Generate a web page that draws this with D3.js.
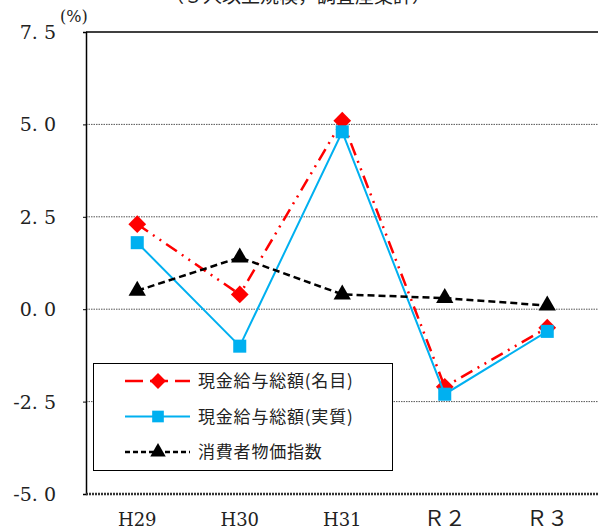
<!DOCTYPE html>
<html>
<head>
<meta charset="utf-8">
<script src="https://cdn.jsdelivr.net/npm/d3@7"></script>
<style>
  html, body { margin: 0; padding: 0; background: #fff; }
  svg { display: block; }
  svg text.serif { font-family: "DejaVu Serif", serif; }
  svg text.cjk { font-family: "Noto Sans CJK JP", sans-serif; }
</style>
</head>
<body>
<svg id="chart" width="598" height="531"></svg>
<script>
// Fiscal years
const categories = ["H29", "H30", "H31", "Ｒ２", "Ｒ３"];
// Year-on-year change (%)
const nominalWages = [2.3, 0.4, 5.1, -2.1, -0.5];   // 現金給与総額(名目)
const realWages    = [1.8, -1.0, 4.8, -2.3, -0.6];  // 現金給与総額(実質)
const cpi          = [0.5, 1.4, 0.4, 0.3, 0.1];     // 消費者物価指数
const yTicks = [7.5, 5.0, 2.5, 0.0, -2.5, -5.0];
const yTickLabels = ["7. 5", "5. 0", "2. 5", "0. 0", "-2. 5", "-5. 0"];
const seriesNames = ["現金給与総額(名目)", "現金給与総額(実質)", "消費者物価指数"];

const svg = d3.select("#chart");
const plot = { left: 86, top: 32, right: 598.5, bottom: 494 };

const x = d3.scaleBand().domain(categories).range([plot.left, plot.right]);
const y = d3.scaleLinear().domain([-5, 7.5]).range([plot.bottom, plot.top]);
const cx = d => x(d) + x.bandwidth() / 2;

// Subtitle (runs off the top edge)
svg.append("text")
  .attr("class", "cjk")
  .attr("x", 298).attr("y", 3)
  .attr("text-anchor", "middle")
  .attr("font-size", 19)
  .attr("fill", "#222")
  .text("（５人以上規模，調査産業計）");

// Horizontal dotted gridlines
svg.append("g").selectAll("line")
  .data(yTicks.filter(v => v > -5 && v < 7.5))
  .join("line")
  .attr("x1", plot.left).attr("x2", plot.right)
  .attr("y1", d => y(d)).attr("y2", d => y(d))
  .attr("stroke", "#555").attr("stroke-width", 1)
  .attr("stroke-dasharray", "1.5,1");

// Frame: top border and left axis
svg.append("line")
  .attr("x1", plot.left).attr("x2", plot.right)
  .attr("y1", y(7.5)).attr("y2", y(7.5))
  .attr("stroke", "#000").attr("stroke-width", 1.5);

const yAxis = d3.axisLeft(y).tickValues(yTicks).tickSize(3).tickFormat("");
const gy = svg.append("g").attr("transform", `translate(${plot.left},0)`).call(yAxis);
gy.select(".domain").attr("stroke", "#000").attr("stroke-width", 1.5);
gy.selectAll(".tick line").attr("stroke", "#000");

// Bottom axis (dense dotted)
svg.append("line")
  .attr("x1", plot.left).attr("x2", plot.right)
  .attr("y1", y(-5)).attr("y2", y(-5))
  .attr("stroke", "#333").attr("stroke-width", 2.5)
  .attr("stroke-dasharray", "2,1");

// Y tick labels
svg.append("g").selectAll("text")
  .data(yTicks)
  .join("text")
  .attr("class", "serif")
  .attr("x", 56).attr("y", d => y(d) + 7)
  .attr("text-anchor", "end")
  .attr("font-size", 19)
  .attr("fill", "#222")
  .text((d, i) => yTickLabels[i]);

// Unit label
svg.append("text")
  .attr("class", "serif")
  .attr("x", 60).attr("y", 22)
  .attr("font-size", 16)
  .attr("fill", "#222")
  .text("(%)");

// X labels (full-width glyphs fall back to the CJK face, so give them a bit more size)
const isWide = s => /[^\x00-\x7f]/.test(s);
svg.append("g").selectAll("text")
  .data(categories)
  .join("text")
  .attr("class", d => isWide(d) ? "cjk" : "serif")
  .attr("x", d => cx(d)).attr("y", 526)
  .attr("text-anchor", "middle")
  .attr("font-size", d => isWide(d) ? 21 : 18)
  .attr("fill", "#222")
  .text(d => d);

// Series definitions
const series = [
  { name: seriesNames[0], values: nominalWages, color: "#FF0000", width: 2.5, dash: "13,6,2,6,2,6", marker: "diamond", size: 200 },
  { name: seriesNames[1], values: realWages, color: "#00B0F0", width: 2, dash: null, marker: "square", size: 170 },
  { name: seriesNames[2], values: cpi, color: "#000000", width: 2.5, dash: "7,4", marker: "triangle", size: 130 }
];
const symbolType = { diamond: d3.symbolDiamond2, square: d3.symbolSquare, triangle: d3.symbolTriangle };

const line = d3.line().x(d => cx(d.c)).y(d => y(d.v));

series.forEach(s => {
  const pts = categories.map((c, i) => ({ c, v: s.values[i] }));
  const g = svg.append("g");
  g.append("path")
    .attr("d", line(pts))
    .attr("fill", "none")
    .attr("stroke", s.color).attr("stroke-width", s.width)
    .attr("stroke-dasharray", s.dash);
  g.selectAll("path.mk").data(pts).join("path")
    .attr("class", "mk")
    .attr("transform", d => `translate(${cx(d.c)},${y(d.v)})`)
    .attr("d", d3.symbol().type(symbolType[s.marker]).size(s.size))
    .attr("fill", s.color);
});

// Legend
const legend = svg.append("g");
legend.append("rect")
  .attr("x", 93.5).attr("y", 363.5).attr("width", 299).attr("height", 107)
  .attr("fill", "#fff").attr("stroke", "#000").attr("stroke-width", 1);
const legendLineDash = ["18,7", null, "5,3"];
series.forEach((s, i) => {
  const ly = 381 + i * 35.5;
  legend.append("line")
    .attr("x1", 125).attr("x2", 190).attr("y1", ly).attr("y2", ly)
    .attr("stroke", s.color).attr("stroke-width", s.width)
    .attr("stroke-dasharray", legendLineDash[i]);
  legend.append("path")
    .attr("transform", `translate(158,${ly})`)
    .attr("d", d3.symbol().type(symbolType[s.marker]).size(s.size * 0.8))
    .attr("fill", s.color);
  legend.append("text")
    .attr("class", "cjk")
    .attr("x", 198).attr("y", ly + 6)
    .attr("font-size", 17)
    .attr("letter-spacing", 0.8)
    .attr("fill", "#222")
    .text(s.name);
});
</script>
</body>
</html>
